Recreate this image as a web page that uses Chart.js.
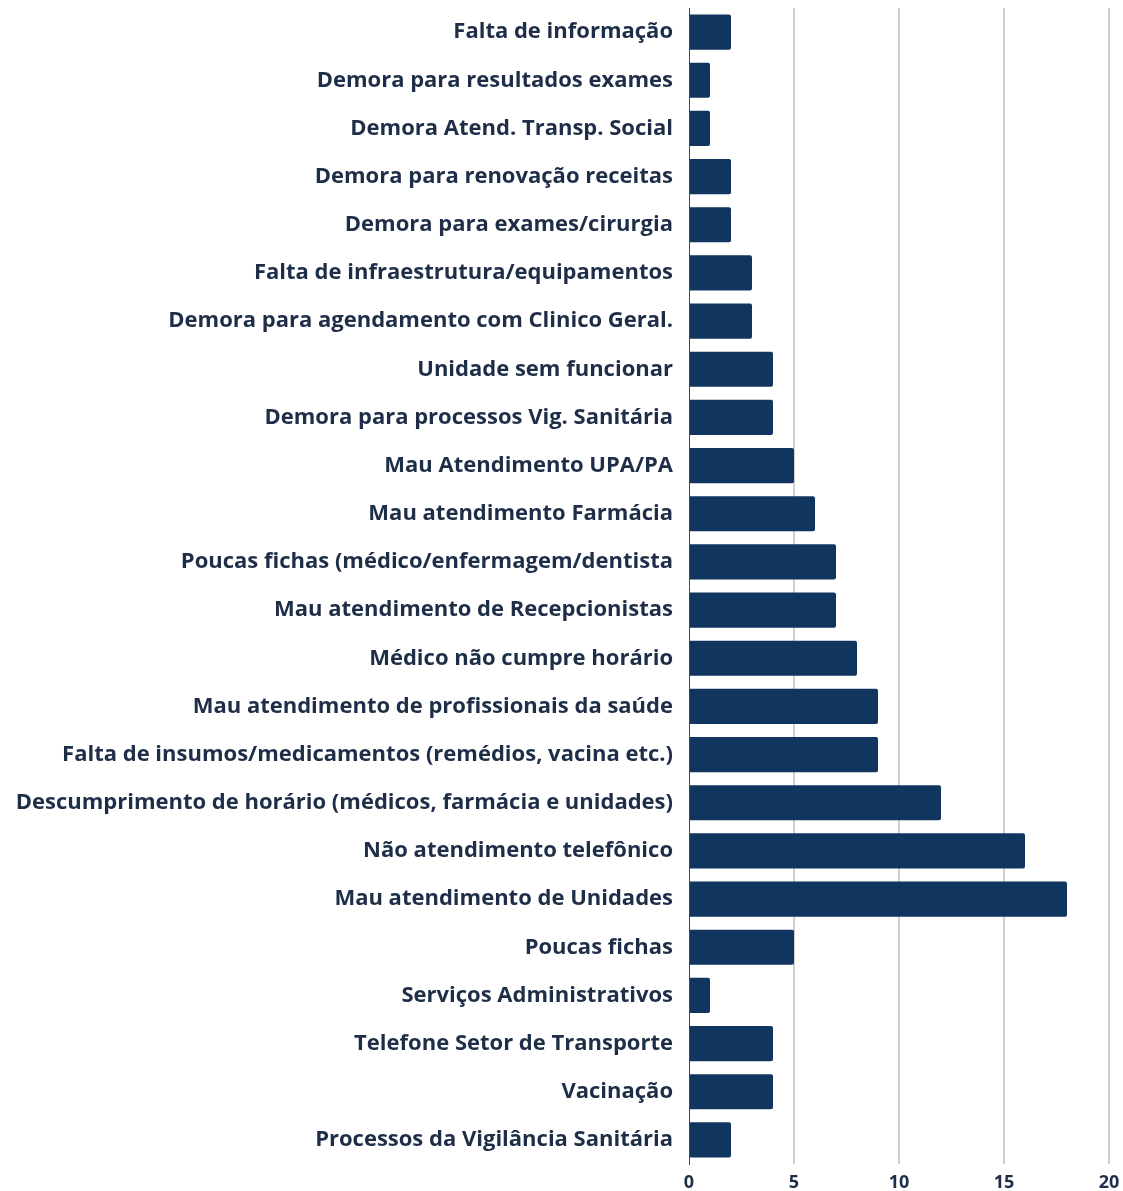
<!DOCTYPE html>
<html>
<head>
<meta charset="utf-8">
<script src="https://cdn.jsdelivr.net/npm/chart.js@4.4.1/dist/chart.umd.min.js"></script>
<style>
  html, body { margin: 0; padding: 0; background: #ffffff; }
  #wrap { width: 1123px; height: 1191px; }
</style>
</head>
<body>
<div id="wrap"><canvas id="barChart" width="1123" height="1191"></canvas></div>
<script>
// ===== Reclamações por assunto =====

const categories = [
  'Falta de informação',
  'Demora para resultados exames',
  'Demora Atend. Transp. Social',
  'Demora para renovação receitas',
  'Demora para exames/cirurgia',
  'Falta de infraestrutura/equipamentos',
  'Demora para agendamento com Clinico Geral.',
  'Unidade sem funcionar',
  'Demora para processos Vig. Sanitária',
  'Mau Atendimento UPA/PA',
  'Mau atendimento Farmácia',
  'Poucas fichas (médico/enfermagem/dentista',
  'Mau atendimento de Recepcionistas',
  'Médico não cumpre horário',
  'Mau atendimento de profissionais da saúde',
  'Falta de insumos/medicamentos (remédios, vacina etc.)',
  'Descumprimento de horário (médicos, farmácia e unidades)',
  'Não atendimento telefônico',
  'Mau atendimento de Unidades',
  'Poucas fichas',
  'Serviços Administrativos',
  'Telefone Setor de Transporte',
  'Vacinação',
  'Processos da Vigilância Sanitária',
];

const counts = [2, 1, 1, 2, 2, 3, 3, 4, 4, 5, 6, 7, 7, 8, 9, 9, 12, 16, 18, 5, 1, 4, 4, 2];

const xTicks = [0, 5, 10, 15, 20];

const BAR_COLOR = '#10355f';
const TEXT_COLOR = '#1f2e48';
const GRID_COLOR = '#cfcfcf';
const FONT = '"Open Sans", sans-serif';

const ctx = document.getElementById('barChart').getContext('2d');
const barChart = new Chart(ctx, {
  type: 'bar',
  data: {
    labels: categories,
    datasets: [{
      data: counts,
      backgroundColor: BAR_COLOR,
      borderRadius: { topRight: 2, bottomRight: 2 },
      borderSkipped: 'start',
      barPercentage: 0.73,
      categoryPercentage: 1,
    }],
  },
  options: {
    indexAxis: 'y',
    responsive: false,
    animation: false,
    layout: { padding: { top: 8, right: 14, left: 0, bottom: 0 } },
    scales: {
      x: {
        min: 0,
        max: 20,
        afterBuildTicks: (scale) => {
          scale.ticks = xTicks.map((v) => ({ value: v }));
        },
        afterFit: (scale) => {
          scale.height = 27;
          scale.paddingLeft = 0;
          scale.paddingRight = 0;
        },
        grid: {
          color: (c) => (c.tick && c.tick.value === 0 ? 'rgba(0,0,0,0)' : GRID_COLOR),
          lineWidth: 2,
          drawTicks: false,
        },
        border: { display: false },
        ticks: {
          color: TEXT_COLOR,
          padding: 8,
          font: { family: FONT, size: 18, weight: '700' },
        },
      },
      y: {
        afterFit: (scale) => {
          // keep the rows flush with the layout padding
          scale.width = 689;
          scale.paddingTop = 0;
          scale.paddingBottom = 0;
        },
        grid: { display: false, drawTicks: false },
        border: { display: true, color: '#3a4a66', width: 1 },
        ticks: {
          color: TEXT_COLOR,
          padding: 16,
          autoSkip: false,
          font: { family: FONT, size: 22, weight: '700' },
        },
      },
    },
    plugins: {
      legend: { display: false },
      tooltip: { enabled: false },
    },
  },
});
</script>
</body>
</html>
